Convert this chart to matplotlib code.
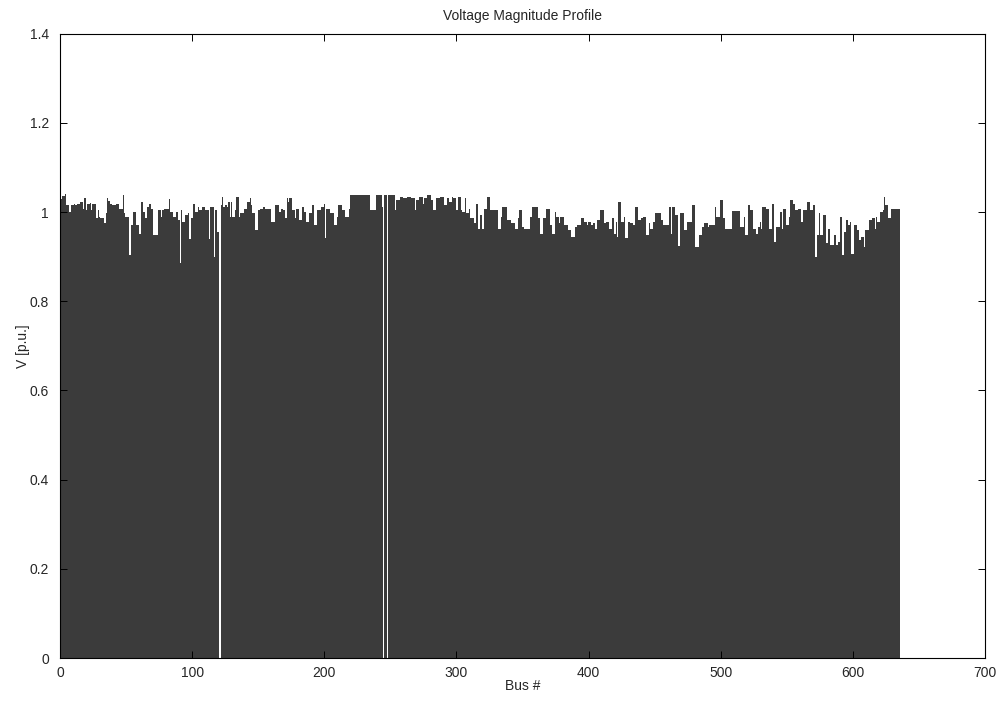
import numpy as np
import matplotlib
matplotlib.use("Agg")
import matplotlib.pyplot as plt
from matplotlib.ticker import FuncFormatter

# 버스별 전압 크기 [p.u.]
v_001_100 = [
    1.030, 1.035, 1.035, 1.040, 1.016, 1.016, 1.000, 1.000, 1.016, 1.016,
    1.018, 1.016, 1.019, 1.019, 1.019, 1.023, 1.023, 1.008, 1.031, 1.005,
    1.019, 1.019, 1.020, 1.005, 1.019, 1.019, 1.019, 0.986, 1.005, 0.990,
    0.986, 0.986, 0.986, 0.975, 0.997, 1.031, 1.025, 1.019, 1.019, 1.016,
    1.016, 1.016, 1.019, 1.019, 1.008, 1.008, 1.008, 1.038, 0.997, 0.990,
    0.990, 0.990, 0.903, 0.971, 0.971, 1.000, 1.000, 0.971, 0.971, 0.952,
    0.952, 1.023, 1.000, 1.000, 0.986, 1.012, 1.012, 1.019, 1.008, 1.008,
    0.948, 0.948, 0.948, 0.948, 1.005, 1.005, 0.990, 1.005, 1.007, 1.007,
    1.007, 1.007, 1.030, 1.000, 1.000, 0.990, 0.990, 1.000, 1.000, 0.982,
    0.885, 1.005, 0.978, 0.978, 0.993, 0.993, 0.997, 0.940, 0.940, 0.986,
]
v_101_200 = [
    1.019, 1.019, 1.000, 1.000, 1.012, 1.005, 1.005, 1.012, 1.012, 1.005,
    1.005, 1.005, 0.940, 1.012, 1.012, 1.012, 0.900, 1.005, 0.956, 0.956,
    0.000, 1.016, 1.034, 1.012, 1.016, 1.016, 1.012, 1.023, 0.990, 1.023,
    0.990, 0.990, 1.005, 1.034, 1.034, 0.990, 0.997, 0.997, 0.997, 1.008,
    1.008, 1.023, 1.023, 1.031, 1.016, 0.997, 0.997, 0.960, 0.960, 1.005,
    1.005, 1.008, 1.008, 1.012, 1.012, 1.008, 1.008, 1.008, 1.008, 0.978,
    0.978, 0.978, 1.016, 1.016, 1.016, 1.000, 1.000, 1.008, 1.005, 1.005,
    0.986, 1.031, 1.023, 1.031, 1.031, 1.005, 1.005, 0.986, 1.008, 1.008,
    0.982, 0.982, 0.982, 1.012, 1.000, 1.000, 0.978, 0.978, 0.997, 0.997,
    1.016, 1.016, 0.971, 0.971, 1.005, 1.005, 1.005, 1.012, 1.012, 1.019,
]
v_201_300 = [
    0.941, 1.008, 1.008, 1.008, 0.997, 0.997, 0.997, 0.971, 0.971, 0.990,
    1.016, 1.016, 1.016, 1.005, 1.005, 0.990, 0.990, 0.990, 1.008, 1.038,
    1.038, 1.038, 1.038, 1.038, 1.038, 1.038, 1.038, 1.038, 1.038, 1.038,
    1.038, 1.038, 1.038, 1.038, 1.005, 1.005, 1.005, 1.005, 1.005, 1.038,
    1.038, 1.038, 1.038, 1.012, 0.000, 1.038, 1.038, 0.000, 1.038, 1.038,
    1.038, 1.038, 1.038, 1.005, 1.027, 1.027, 1.027, 1.034, 1.034, 1.031,
    1.031, 1.031, 1.034, 1.034, 1.034, 1.031, 1.031, 1.031, 1.005, 1.027,
    1.027, 1.034, 1.034, 1.034, 1.019, 1.031, 1.031, 1.038, 1.038, 1.038,
    1.027, 1.027, 1.005, 1.005, 1.031, 1.031, 1.031, 1.034, 1.034, 1.034,
    1.016, 1.016, 1.031, 1.031, 1.023, 1.023, 1.034, 1.031, 1.031, 1.005,
]
v_301_400 = [
    1.005, 1.034, 1.034, 1.005, 1.000, 1.000, 1.031, 0.997, 0.997, 1.008,
    0.986, 0.986, 0.986, 0.975, 1.019, 1.019, 0.963, 0.993, 0.993, 0.963,
    1.008, 1.008, 1.008, 1.034, 1.034, 1.005, 1.005, 1.005, 1.005, 1.005,
    1.005, 0.963, 0.963, 0.990, 1.012, 1.012, 1.012, 1.012, 0.982, 0.982,
    0.982, 0.975, 0.975, 0.975, 0.963, 0.963, 0.986, 1.005, 1.005, 0.967,
    0.967, 0.963, 0.963, 0.963, 0.963, 0.990, 0.990, 1.012, 1.012, 1.012,
    1.012, 0.986, 0.986, 0.952, 0.952, 0.986, 0.986, 1.008, 1.008, 1.008,
    0.971, 0.971, 0.952, 0.952, 1.000, 0.990, 0.990, 0.975, 0.990, 0.990,
    0.990, 0.971, 0.971, 0.971, 0.960, 0.960, 0.945, 0.945, 0.945, 0.967,
    0.967, 0.971, 0.971, 0.971, 0.987, 0.987, 0.978, 0.978, 0.971, 0.978,
]
v_401_500 = [
    0.978, 0.971, 0.971, 0.975, 0.963, 0.963, 0.982, 0.982, 1.005, 1.005,
    1.005, 0.975, 0.975, 0.978, 0.978, 0.963, 0.963, 0.986, 0.986, 0.952,
    0.978, 0.945, 1.023, 1.023, 0.978, 0.978, 0.990, 0.941, 0.941, 0.978,
    0.978, 0.975, 0.975, 0.971, 0.971, 1.012, 1.012, 0.982, 0.982, 0.986,
    0.986, 0.990, 0.990, 0.948, 0.948, 0.975, 0.963, 0.963, 0.978, 0.978,
    0.999, 0.999, 0.999, 0.999, 0.982, 0.982, 0.971, 0.971, 0.971, 0.971,
    1.012, 1.012, 0.952, 1.012, 1.012, 0.993, 0.993, 0.925, 0.925, 0.997,
    0.997, 0.997, 0.960, 0.960, 0.978, 0.978, 0.978, 0.978, 1.016, 1.016,
    0.922, 0.922, 0.922, 0.948, 0.948, 0.967, 0.967, 0.975, 0.975, 0.975,
    0.967, 0.971, 0.971, 0.971, 0.971, 1.012, 0.990, 0.990, 0.990, 1.027,
]
v_501_600 = [
    1.027, 0.986, 0.986, 0.963, 0.963, 0.963, 0.963, 0.963, 1.002, 1.002,
    1.002, 1.002, 1.002, 1.002, 0.967, 0.967, 0.967, 0.990, 0.948, 0.948,
    1.016, 1.016, 1.005, 1.005, 0.963, 0.963, 0.952, 0.952, 0.967, 0.978,
    0.963, 1.012, 1.012, 1.012, 1.008, 1.008, 0.963, 0.963, 1.019, 1.019,
    0.933, 0.967, 0.967, 0.967, 1.000, 1.000, 0.963, 1.008, 1.008, 0.971,
    0.971, 0.990, 1.027, 1.027, 1.019, 1.019, 1.005, 1.005, 1.008, 1.008,
    0.978, 0.978, 1.005, 1.005, 1.005, 1.023, 1.023, 1.005, 1.005, 1.016,
    1.016, 0.900, 0.948, 0.948, 0.997, 0.948, 0.948, 0.993, 0.993, 0.930,
    0.930, 0.963, 0.926, 0.926, 0.926, 0.948, 0.948, 0.926, 0.933, 0.933,
    0.990, 0.904, 0.904, 0.956, 0.982, 0.982, 0.971, 0.978, 0.907, 0.907,
]
v_601_635 = [
    0.971, 0.971, 0.971, 0.960, 0.937, 0.937, 0.945, 0.945, 0.922, 0.960,
    0.960, 0.960, 0.982, 0.982, 0.986, 0.986, 0.963, 0.990, 0.978, 0.978,
    1.000, 1.000, 1.005, 1.034, 1.016, 1.016, 0.986, 0.986, 1.008, 1.008,
    1.007, 1.007, 1.007, 1.007, 1.007,
]

voltage = np.array(v_001_100 + v_101_200 + v_201_300 + v_301_400
                   + v_401_500 + v_501_600 + v_601_635)
bus = np.arange(1, len(voltage) + 1)

x_ticks = [0, 100, 200, 300, 400, 500, 600, 700]
y_ticks = [0, 0.2, 0.4, 0.6, 0.8, 1.0, 1.2, 1.4]

plt.rcParams["font.family"] = ["Liberation Sans", "DejaVu Sans"]
plt.rcParams["font.size"] = 10
text_col = "#262626"

fig = plt.figure(figsize=(10, 7.03), dpi=100)
ax = fig.add_axes([0.060, 0.064, 0.925, 0.888])

ax.bar(bus, voltage, width=1.0, color="#3b3b3b", linewidth=0, antialiased=False)

ax.set_xlim(0, 700)
ax.set_ylim(0, 1.4)
ax.set_xticks(x_ticks)
ax.set_yticks(y_ticks)
ax.yaxis.set_major_formatter(FuncFormatter(lambda v, p: f"{v:g}"))

ax.tick_params(direction="in", length=5, width=0.7, top=True, right=True,
               labelsize=10, color="black", labelcolor=text_col)
ax.tick_params(axis="x", pad=6)
ax.tick_params(axis="y", pad=8)
for s in ax.spines.values():
    s.set_linewidth(0.8)

ax.set_title("Voltage Magnitude Profile", fontsize=10, pad=10, color=text_col)
ax.set_xlabel("Bus #", fontsize=10, labelpad=-1, color=text_col)
ax.set_ylabel("V [p.u.]", fontsize=10, labelpad=0, color=text_col)

fig.savefig("out.png", dpi=100, facecolor="white")
